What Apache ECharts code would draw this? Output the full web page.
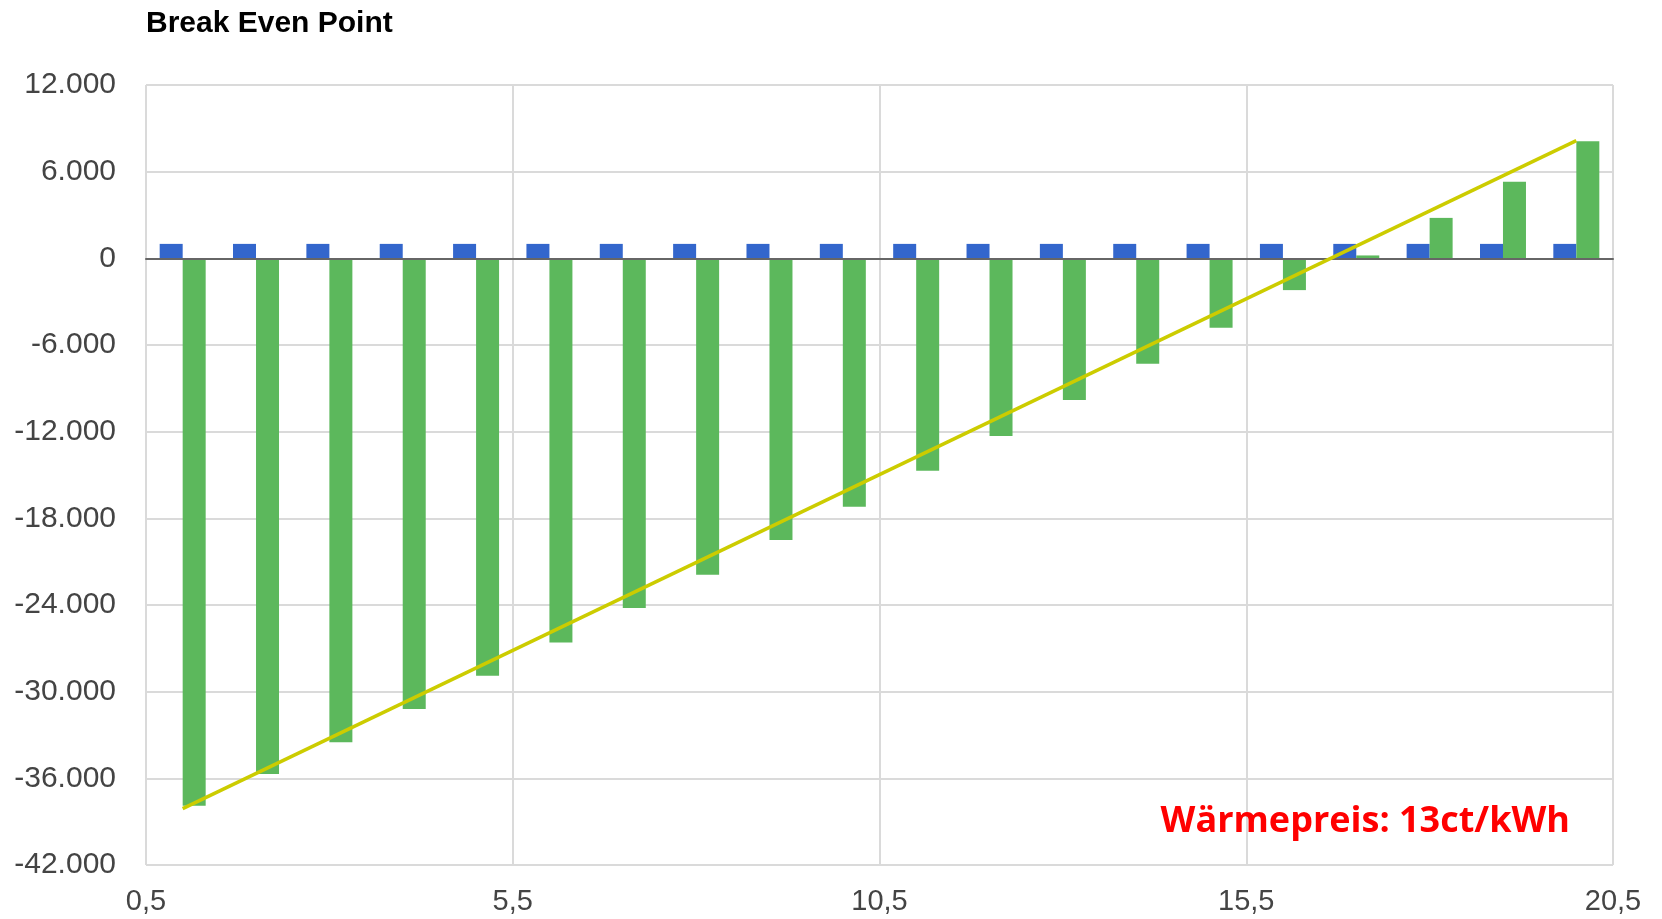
<!DOCTYPE html>
<html>
<head>
<meta charset="utf-8">
<script src="https://cdn.jsdelivr.net/npm/echarts@6/dist/echarts.min.js"></script>
<style>
html,body{margin:0;padding:0;background:#fff;}
#chart{width:1662px;height:919px;}
</style>
</head>
<body>
<div id="chart"></div>
<script>
// ---- data ----
const categories = ['1','2','3','4','5','6','7','8','9','10','11','12','13','14','15','16','17','18','19','20'];
const blueValues = [1000,1000,1000,1000,1000,1000,1000,1000,1000,1000,1000,1000,1000,1000,1000,1000,1000,1000,1000,1000];
const greenValues = [-37900,-35700,-33500,-31200,-28900,-26600,-24200,-21900,-19500,-17200,-14700,-12300,-9800,-7300,-4800,-2200,200,2800,5300,8100];
const trendStart = ['1', -38100];
const trendEnd = ['20', 8150];
const xTickLabels = ['0,5','5,5','10,5','15,5','20,5'];
const titleText = 'Break Even Point';
const noteText = 'Wärmepreis: 13ct/kWh';

const fmtDE = v => {
  const s = Math.abs(v).toString().replace(/\B(?=(\d{3})+(?!\d))/g, '.');
  return (v < 0 ? '-' : '') + s;
};

const chart = echarts.init(document.getElementById('chart'), null, {renderer:'canvas'});
const ff = 'Liberation Sans, Arial, sans-serif';
chart.setOption({
  animation:false,
  backgroundColor:'#fff',
  title:{
    text:titleText, left:141, top:4,
    textStyle:{fontFamily:ff, fontWeight:'bold', fontSize:30, color:'#000'}
  },
  grid:{left:146, right:49, top:85, bottom:54, containLabel:false},
  xAxis:[
    {
      type:'category', data:categories, boundaryGap:true,
      axisLine:{show:true, onZero:true, lineStyle:{color:'#666', width:2}},
      axisTick:{show:false}, axisLabel:{show:false}, splitLine:{show:false}, z:5
    },
    {
      type:'value', min:0, max:20, interval:5, position:'bottom',
      axisLine:{show:false}, axisTick:{show:false},
      axisLabel:{margin:22, fontFamily:ff, fontSize:29, color:'#444', formatter:(v)=>xTickLabels[Math.round(v/5)]},
      splitLine:{show:true, lineStyle:{color:'#dadada', width:2}}
    }
  ],
  yAxis:{
    type:'value', min:-42000, max:12000, interval:6000,
    axisLine:{show:false}, axisTick:{show:false},
    axisLabel:{margin:30, fontFamily:ff, fontSize:30, color:'#444', formatter:fmtDE},
    splitLine:{show:true, lineStyle:{color:'#dadada', width:2}}
  },
  series:[
    {type:'bar', xAxisIndex:0, data:blueValues, barWidth:23, barGap:'0%', itemStyle:{color:'#3366cc'}, z:3},
    {type:'bar', xAxisIndex:0, data:greenValues, barWidth:23, barGap:'0%', itemStyle:{color:'#5cb85c'}, z:3},
    {type:'line', xAxisIndex:0, data:[trendStart, trendEnd], symbol:'none',
     lineStyle:{color:'#cccc00', width:3.5}, z:6}
  ],
  graphic:[{
    type:'text', right:92, top:804, z:10,
    style:{text:noteText, fill:'#ff0000', font:'bold 36px "Open Sans", sans-serif'}
  }]
});
</script>
</body>
</html>
